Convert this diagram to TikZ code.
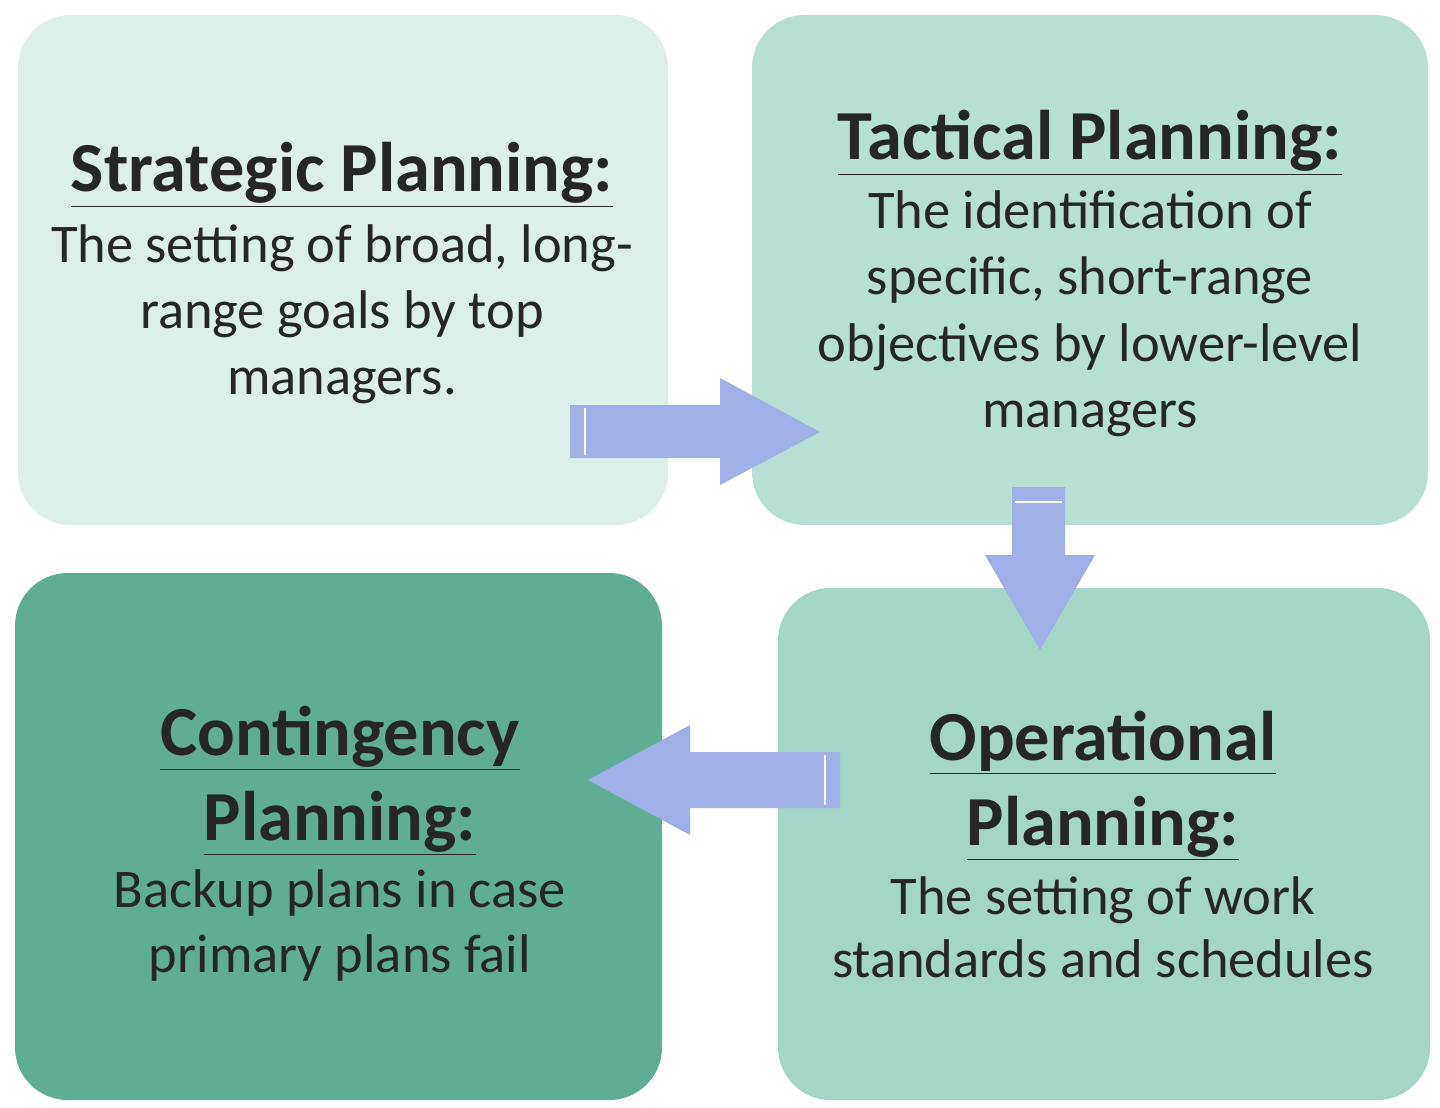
\documentclass[tikz,border=0pt]{standalone}
\usepackage{fontspec}
\setmainfont{Carlito}
\usetikzlibrary{calc}
\definecolor{cA}{HTML}{DDEFE9}
\definecolor{cB}{HTML}{B5E0D3}
\definecolor{cC}{HTML}{5FAD94}
\definecolor{cD}{HTML}{A3D6C6}
\definecolor{arr}{HTML}{9FB0E6}
\definecolor{txt}{HTML}{262626}
\tikzset{
  box/.style={rounded corners=30pt},
  ttl/.style={font=\fontsize{40}{48}\selectfont\bfseries, text=txt, inner sep=0, anchor=base},
  bdy/.style={font=\fontsize{31}{37.5}\selectfont, text=txt, inner sep=0, anchor=base},
  arrowshape/.style={fill=arr, draw=none}
}
\newcommand{\ul}[1]{\underline{#1}}
\begin{document}
\begin{tikzpicture}[x=0.02cm,y=-0.02cm]
\useasboundingbox (0,0) rectangle (1440,1108);
\fill[white] (0,0) rectangle (1440,1108);
\fill[box,cA] (18,15) rectangle (668,525);
\fill[box,cB] (752,15) rectangle (1428,525);
\fill[box,cC] (15,573) rectangle (662,1100);
\fill[box,cD] (778,588) rectangle (1430,1100);
% arrows
\fill[arrowshape] (570,405) -- (720,405) -- (720,378) -- (820,432) -- (720,485) -- (720,458) -- (570,458) -- cycle;
\fill[arrowshape] (1012,487) -- (1065,487) -- (1065,555) -- (1095,555) -- (1040,650) -- (985,555) -- (1012,555) -- cycle;
\fill[arrowshape] (840,752) -- (690,752) -- (690,725) -- (588,780) -- (690,835) -- (690,808) -- (840,808) -- cycle;
\draw[white,line width=1.5pt] (585,408) -- (585,455) (1015,502) -- (1062,502) (825,755) -- (825,805);
% Strategic
\node[ttl] (st) at (342,192) {\ul{Strategic Planning:}};
\node[bdy] (s1) at (342,262) {The setting of broad, long-};
\node[bdy] (s2) at (342,328) {range goals by top};
\node[bdy] (s3) at (342,394) {managers.};
% Tactical
\node[ttl] (tt) at (1090,160) {\ul{Tactical Planning:}};
\node[bdy] (t1) at (1090,229) {The identification of};
\node[bdy] (t2) at (1090,295) {specific, short-range};
\node[bdy] (t3) at (1090,361) {objectives by lower-level};
\node[bdy] (t4) at (1090,427) {managers};
% Contingency
\node[ttl] (ct1) at (340,755) {\ul{Contingency}};
\node[ttl] (ct2) at (340,840) {\ul{Planning:}};
\node[bdy] (c1) at (340,907) {Backup plans in case};
\node[bdy] (c2) at (340,972) {primary plans fail};
% Operational
\node[ttl] (ot1) at (1103,760) {\ul{Operational}};
\node[ttl] (ot2) at (1103,845) {\ul{Planning:}};
\node[bdy] (o1) at (1103,914) {The setting of work};
\node[bdy] (o2) at (1103,977) {standards and schedules};
\end{tikzpicture}
\end{document}
